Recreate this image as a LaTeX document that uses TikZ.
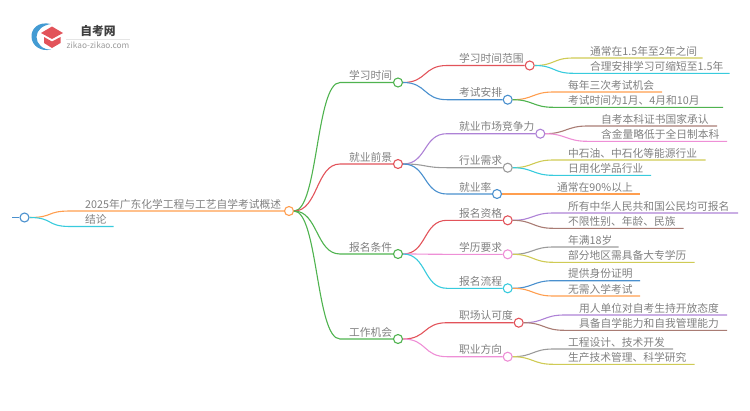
\documentclass[tikz,border=0pt]{standalone}
\usepackage{fontspec}
\setmainfont{Noto Sans CJK SC}
\definecolor{cgreen}{HTML}{4FB34F}
\definecolor{cred}{HTML}{E2535A}
\definecolor{cblue}{HTML}{4A90CE}
\definecolor{ccyan}{HTML}{38CBDD}
\definecolor{corange}{HTML}{FF9E4F}
\definecolor{cpurple}{HTML}{AE82D6}
\definecolor{cgray}{HTML}{9B9B9B}
\definecolor{colive}{HTML}{CFCB55}
\definecolor{cbrown}{HTML}{A97C74}
\definecolor{cpink}{HTML}{EE8FD6}
\definecolor{ctext}{HTML}{808080}
\begin{document}
\begin{tikzpicture}[x=1pt, y=-1pt,
  dot/.style = {draw, circle, fill=white, line width=1.1pt, minimum size=9pt, inner sep=0pt},
  lab/.style = {anchor=base west, inner sep=0pt, text=ctext, font=\fontsize{10.75}{12}\selectfont},
  link/.style = {line width=1.1pt},
  main/.style = {out=0, in=180, distance=24pt},
  leaf/.style = {out=0, in=180, distance=20pt}]
\useasboundingbox (0,0) rectangle (750,410);

% logo
\fill[cblue!90!cyan] (51,24) .. controls (38,21) and (31,29) .. (31.5,37) .. controls (32,46) and (41,52) .. (51,49.5) .. controls (43,50) and (36.5,44) .. (36.5,37) .. controls (36.5,30) and (43,25) .. (51,24) -- cycle;
\fill[cred] (52,26.5) -- (63,33) -- (52,39) -- (41,33) -- cycle;
\fill[cred] (44,37) -- (52,41.5) -- (60.5,37) -- (60.5,43) -- (52,48) -- (44,43) -- cycle;
\node[anchor=center, inner sep=0pt, text=black!75, font=\fontsize{11.8}{12}\bfseries\selectfont] (logo) at (98,31) {自考网};
\node[anchor=center, inner sep=0pt, text=cgray, font=\fontsize{8.3}{9}\selectfont] (site) at (98,45) {zikao-zikao.com};
\draw[black!10, line width=0.5pt] (66,39) -- (130,39);

% circles
\coordinate (s) at (12,217.5);
\node[dot, draw=cblue]   (r)  at (24.5,217.5) {};
\node[dot, draw=corange] (m)  at (289,211) {};
\node[dot, draw=cgreen]  (a)  at (398,82.5) {};
\node[dot, draw=cred]    (b)  at (398,164) {};
\node[dot, draw=cgreen]  (c)  at (398,254) {};
\node[dot, draw=cgreen]  (d)  at (398,339) {};
\node[dot, draw=cred]    (a1) at (529.7,65.5) {};
\node[dot, draw=cblue]   (a2) at (507.7,99.7) {};
\node[dot, draw=cpurple] (b1) at (540.3,133.7) {};
\node[dot, draw=cgray]   (b2) at (507.7,167.7) {};
\node[dot, draw=cblue]   (b3) at (497,194) {};
\node[dot, draw=cred]    (c1) at (507.7,220.3) {};
\node[dot, draw=cpink]   (c2) at (507.7,254.3) {};
\node[dot, draw=ccyan]   (c3) at (507.7,288.3) {};
\node[dot, draw=cred]    (d1) at (518.7,322.7) {};
\node[dot, draw=cpink]   (d2) at (507.7,356.7) {};

% labels
\node[lab] (tm) at (85,208) {2025年广东化学工程与工艺自学考试概述};
\node[lab] (tz) at (85,223.5) {结论};
\node[lab] (ta) at (349,79.5) {学习时间};
\node[lab] (tb) at (349,161) {就业前景};
\node[lab] (tc) at (349,251) {报名条件};
\node[lab] (td) at (349,336) {工作机会};
\node[lab] (ta1) at (459,62.5) {学习时间范围};
\node[lab] (ta2) at (459,96.7) {考试安排};
\node[lab] (tb1) at (459,130.7) {就业市场竞争力};
\node[lab] (tb2) at (459,164.7) {行业需求};
\node[lab] (tb3) at (459,191) {就业率};
\node[lab] (tc1) at (459,217.3) {报名资格};
\node[lab] (tc2) at (459,251.3) {学历要求};
\node[lab] (tc3) at (459,285.3) {报名流程};
\node[lab] (td1) at (459,319.7) {职场认可度};
\node[lab] (td2) at (459,353.7) {职业方向};
\node[lab] (l1) at (590,55) {通常在1.5年至2年之间};
\node[lab] (l2) at (590,70.3) {合理安排学习可缩短至1.5年};
\node[lab] (l3) at (568,89) {每年三次考试机会};
\node[lab] (l4) at (568,104.3) {考试时间为1月、4月和10月};
\node[lab] (l5) at (601,123) {自考本科证书国家承认};
\node[lab] (l6) at (601,138.3) {含金量略低于全日制本科};
\node[lab] (l7) at (568,157) {中石油、中石化等能源行业};
\node[lab] (l8) at (568,172.3) {日用化学品行业};
\node[lab] (l9) at (557,191) {通常在90\%以上};
\node[lab] (l10) at (568,210) {所有中华人民共和国公民均可报名};
\node[lab] (l11) at (568,225.3) {不限性别、年龄、民族};
\node[lab] (l12) at (568,244) {年满18岁};
\node[lab] (l13) at (568,259.3) {部分地区需具备大专学历};
\node[lab] (l14) at (568,277.7) {提供身份证明};
\node[lab] (l15) at (568,293) {无需入学考试};
\node[lab] (l16) at (579,312) {用人单位对自考生持开放态度};
\node[lab] (l17) at (579,327.3) {具备自学能力和自我管理能力};
\node[lab] (l18) at (568,346) {工程设计、技术开发};
\node[lab] (l19) at (568,361.3) {生产技术管理、科学研究};

% trunk
\draw[link, cblue] (s) -- (r);
\coordinate (m0) at (70,211);
\coordinate (z0) at (70,226.5);
\coordinate (z1) at (113.5,226.5);
\draw[link, corange] (r) to[main] (m0) -- (m);
\draw[link, ccyan] (r) to[main] (z0) -- (z1);

% first level
\coordinate (a0) at (340,82.5);
\coordinate (b0) at (340,164);
\coordinate (c0) at (340,254);
\coordinate (d0) at (340,339);
\draw[link, cgreen] (m) to[main] (a0) -- (a);
\draw[link, cred]   (m) to[main] (b0) -- (b);
\draw[link, cgreen] (m) to[main] (c0) -- (c);
\draw[link, cgreen] (m) to[main] (d0) -- (d);

% second level
\coordinate (a10) at (447,65.5);
\coordinate (a20) at (447,99.7);
\coordinate (b10) at (447,133.7);
\coordinate (b20) at (447,167.7);
\coordinate (b30) at (447,194);
\coordinate (c10) at (447,220.3);
\coordinate (c20) at (447,254.3);
\coordinate (c30) at (447,288.3);
\coordinate (d10) at (447,322.7);
\coordinate (d20) at (447,356.7);
\draw[link, cred]    (a) to[main] (a10) -- (a1);
\draw[link, cblue]   (a) to[main] (a20) -- (a2);
\draw[link, cpurple] (b) to[main] (b10) -- (b1);
\draw[link, cgray]   (b) to[main] (b20) -- (b2);
\draw[link, cblue]   (b) to[main] (b30) -- (b3);
\draw[link, cred]    (c) to[main] (c10) -- (c1);
\draw[link, cpink]   (c) to[main] (c20) -- (c2);
\draw[link, ccyan]   (c) to[main] (c30) -- (c3);
\draw[link, cred]    (d) to[main] (d10) -- (d1);
\draw[link, cpink]   (d) to[main] (d20) -- (d2);

% leaves
\coordinate (p1) at (573,58);     \coordinate (q1) at (702.7,58);
\coordinate (p2) at (573,73.3);   \coordinate (q2) at (729.7,73.3);
\coordinate (p3) at (553,92);     \coordinate (q3) at (662,92);
\coordinate (p4) at (553,107.3);  \coordinate (q4) at (723,107.3);
\coordinate (p5) at (587,126);    \coordinate (q5) at (717,126);
\coordinate (p6) at (587,141.3);  \coordinate (q6) at (727,141.3);
\coordinate (p7) at (553,160);    \coordinate (q7) at (705.7,160);
\coordinate (p8) at (553,175.3);  \coordinate (q8) at (651,175.3);
\coordinate (q9) at (640,194);
\coordinate (p10) at (553,213);   \coordinate (q10) at (738,213);
\coordinate (p11) at (553,228.3); \coordinate (q11) at (683.7,228.3);
\coordinate (p12) at (553,247);   \coordinate (q12) at (618.7,247);
\coordinate (p13) at (553,262.3); \coordinate (q13) at (694.7,262.3);
\coordinate (p14) at (553,280.7); \coordinate (q14) at (640,280.7);
\coordinate (p15) at (553,296);   \coordinate (q15) at (640,296);
\coordinate (p16) at (564,315);   \coordinate (q16) at (727,315);
\coordinate (p17) at (564,330.3); \coordinate (q17) at (727,330.3);
\coordinate (p18) at (553,349);   \coordinate (q18) at (673,349);
\coordinate (p19) at (553,364.3); \coordinate (q19) at (694.7,364.3);
\draw[link, colive]  (a1) to[leaf] (p1) -- (q1);
\draw[link, ccyan]   (a1) to[leaf] (p2) -- (q2);
\draw[link, corange] (a2) to[leaf] (p3) -- (q3);
\draw[link, cgreen]  (a2) to[leaf] (p4) -- (q4);
\draw[link, cbrown]  (b1) to[leaf] (p5) -- (q5);
\draw[link, cpink]   (b1) to[leaf] (p6) -- (q6);
\draw[link, colive]  (b2) to[leaf] (p7) -- (q7);
\draw[link, ccyan]   (b2) to[leaf] (p8) -- (q8);
\draw[link, corange] (b3) -- (q9);
\draw[link, cpurple] (c1) to[leaf] (p10) -- (q10);
\draw[link, cbrown]  (c1) to[leaf] (p11) -- (q11);
\draw[link, cgray]   (c2) to[leaf] (p12) -- (q12);
\draw[link, colive]  (c2) to[leaf] (p13) -- (q13);
\draw[link, cblue]   (c3) to[leaf] (p14) -- (q14);
\draw[link, corange] (c3) to[leaf] (p15) -- (q15);
\draw[link, cpurple] (d1) to[leaf] (p16) -- (q16);
\draw[link, cbrown]  (d1) to[leaf] (p17) -- (q17);
\draw[link, cgray]   (d2) to[leaf] (p18) -- (q18);
\draw[link, colive]  (d2) to[leaf] (p19) -- (q19);
\end{tikzpicture}
\end{document}
